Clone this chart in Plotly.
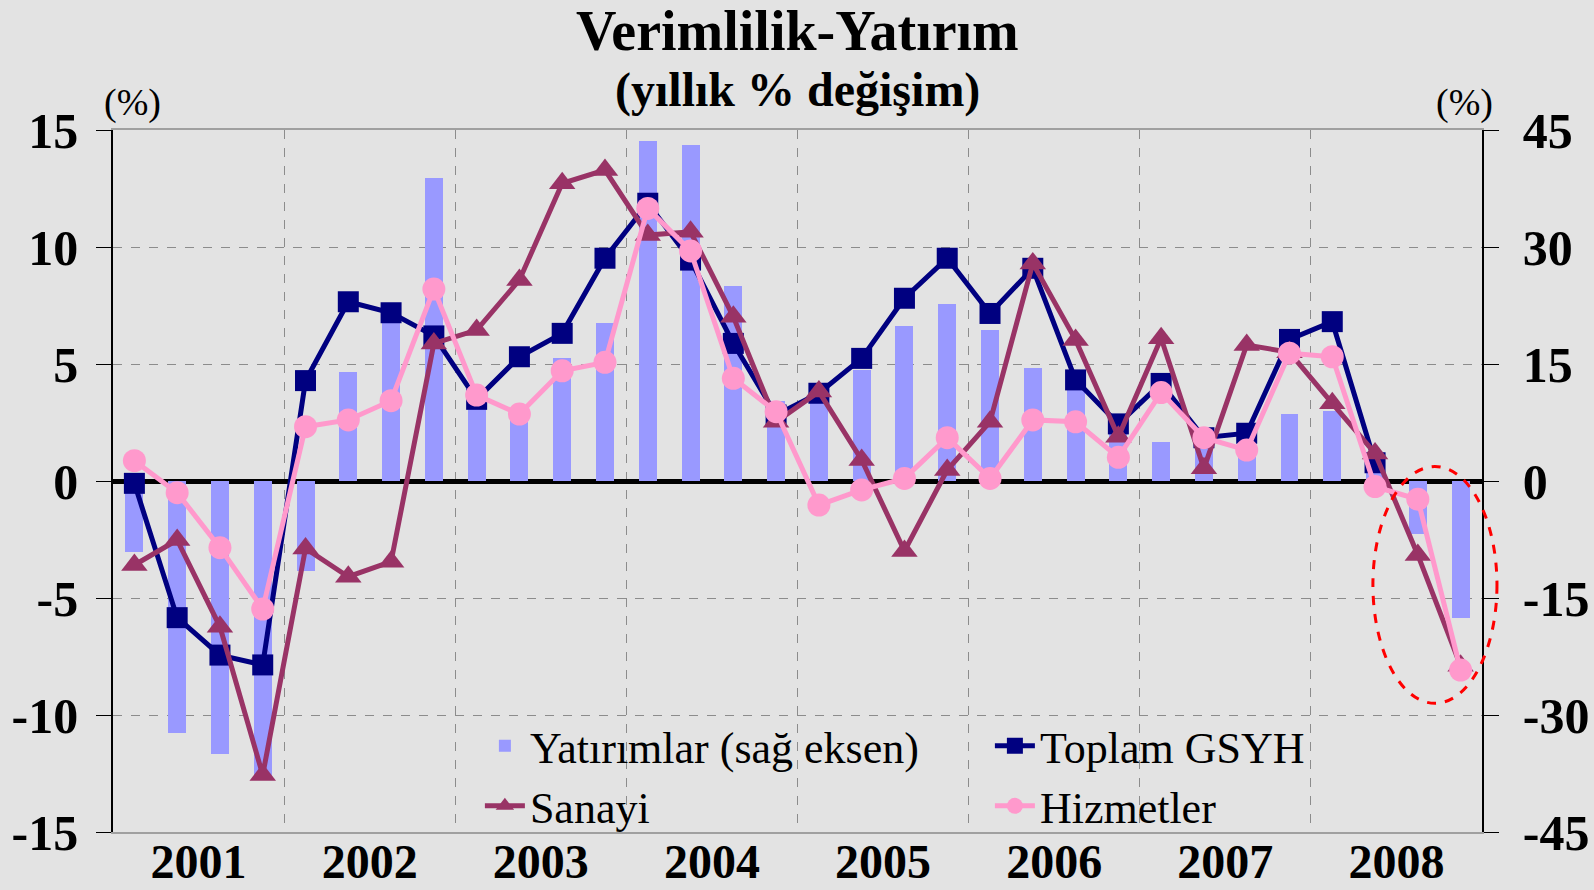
import plotly.graph_objects as go

quarters = [f"{y}Q{q}" for y in range(2001, 2009) for q in range(1, 5)]
years = ["2001", "2002", "2003", "2004", "2005", "2006", "2007", "2008"]

yatirimlar = [-9.1, -32.3, -35.0, -38.0, -11.5, 14.0, 20.7, 38.8,
              10.0, 8.8, 15.8, 20.3, 43.6, 43.1, 25.0, 10.2,
              10.8, 14.2, 19.9, 22.7, 19.4, 14.5, 12.0, 6.2,
              5.0, 4.5, 4.0, 8.6, 9.0, 1.5, -6.8, -17.5]

gsyh = [-0.1, -5.84, -7.44, -7.86, 4.29, 7.66, 7.19, 6.2,
        3.49, 5.31, 6.31, 9.52, 11.87, 9.44, 5.88, 2.82,
        3.75, 5.24, 7.81, 9.52, 7.16, 9.09, 4.32, 2.44,
        4.17, 1.85, 2.04, 6.05, 6.81, 0.78, None, None]

sanayi = [-3.59, -2.52, -6.23, -12.56, -2.88, -4.09, -3.45, 5.88,
          6.45, 8.59, 12.72, 13.29, 10.51, 10.65, 7.02, 2.53,
          3.82, 0.9, -2.99, 0.47, 2.53, 9.3, 6.03, 1.89,
          6.1, 0.54, 5.81, 5.5, 3.32, 1.18, -3.16, -7.9]

hizmetler = [0.87, -0.5, -2.85, -5.47, 2.32, 2.61, 3.43, 8.2,
             3.67, 2.86, 4.71, 5.07, 11.65, 9.83, 4.39, 2.96,
             -1.03, -0.38, 0.11, 1.85, 0.11, 2.61, 2.53, 1.01,
             3.78, 1.85, 1.32, 5.46, 5.31, -0.24, -0.78, -8.08]

left_ticks = [-15, -10, -5, 0, 5, 10, 15]
right_ticks = [-45, -30, -15, 0, 15, 30, 45]
left_labels = [str(v) for v in left_ticks]
right_labels = [str(v) for v in right_ticks]

xi = list(range(len(quarters)))
year_centers = [4 * k + 1.5 for k in range(len(years))]
year_bounds = [4 * k - 0.5 for k in range(1, len(years))]

X_RANGE = [-0.5, len(quarters) - 0.5]
Y2_RANGE = [-15, 15]

SERIF = "Liberation Serif"
BG = "#E3E3E3"

fig = go.Figure()
fig.add_trace(go.Bar(x=xi, y=yatirimlar, name="Yatırımlar (sağ eksen)",
                     marker=dict(color="#9999FF", line=dict(width=0)),
                     width=0.42, yaxis="y"))
fig.add_trace(go.Scatter(x=xi, y=gsyh, name="Toplam GSYH", mode="lines+markers",
                         line=dict(color="#000080", width=5),
                         marker=dict(symbol="square", size=21, color="#000080"),
                         yaxis="y2"))
fig.add_trace(go.Scatter(x=xi, y=sanayi, name="Sanayi", mode="lines+markers",
                         line=dict(color="#993366", width=5),
                         marker=dict(symbol="triangle-up", size=23, color="#993366"),
                         yaxis="y2"))
fig.add_trace(go.Scatter(x=xi, y=hizmetler, name="Hizmetler", mode="lines+markers",
                         line=dict(color="#FF99CC", width=5),
                         marker=dict(symbol="circle", size=23, color="#FF99CC"),
                         yaxis="y2"))

# highlight ellipse around the last two quarters (data units -> paper units)
ell_x = [28.95, 31.85]
ell_y = [0.62, -9.5]
def px(v):
    return (v - X_RANGE[0]) / (X_RANGE[1] - X_RANGE[0])
def py(v):
    return (v - Y2_RANGE[0]) / (Y2_RANGE[1] - Y2_RANGE[0])
fig.add_shape(type="circle", xref="paper", yref="paper",
              x0=px(ell_x[0]), x1=px(ell_x[1]), y0=py(ell_y[1]), y1=py(ell_y[0]),
              line=dict(color="#FF0000", width=3, dash="dash"), layer="above")

tickfont = dict(family=SERIF, size=50, color="black", weight="bold")
yearfont = dict(family=SERIF, size=48, color="black", weight="bold")

fig.update_layout(
    width=1594, height=890,
    paper_bgcolor=BG, plot_bgcolor=BG,
    margin=dict(l=113, r=112, t=130, b=58, autoexpand=False),
    bargap=0,
    showlegend=True,
    xaxis=dict(range=X_RANGE, tickmode="array", tickvals=year_centers, ticktext=years,
               tickfont=yearfont, ticks="", showgrid=False, zeroline=False, automargin=False,
               ticklabelstandoff=-14,
               showline=True, mirror=True, linecolor="#A0A0A0", linewidth=2,
               minor=dict(tickmode="array", tickvals=year_bounds, showgrid=True,
                          gridcolor="#8C8C8C", griddash="dash", gridwidth=1, ticks="")),
    yaxis=dict(range=[-45, 45], tickmode="array", tickvals=right_ticks, ticktext=right_labels,
               side="right", automargin=False,
               tickfont=tickfont, ticks="outside", ticklen=15, tickcolor="black",
               ticklabelstandoff=14,
               showline=True, linecolor="black", linewidth=1.5,
               showgrid=True, gridcolor="#8C8C8C", griddash="dash", gridwidth=1,
               zeroline=False),
    yaxis2=dict(range=Y2_RANGE, tickmode="array", tickvals=left_ticks, ticktext=left_labels,
                side="left", overlaying="y", automargin=False,
                tickfont=tickfont, ticks="outside", ticklen=15, tickcolor="black",
                ticklabelstandoff=8,
                showline=True, linecolor="black", linewidth=1.5,
                showgrid=False, zeroline=True, zerolinecolor="black", zerolinewidth=5),
    legend=dict(orientation="h", x=0.268, y=0.173, xanchor="left", yanchor="top",
                entrywidth=455, entrywidthmode="pixels",
                bgcolor="rgba(0,0,0,0)", font=dict(family=SERIF, size=44, color="black"),
                itemwidth=40, tracegroupgap=0),
    annotations=[
        dict(text="<b>Verimlilik-Yatırım</b>", xref="paper", yref="paper", x=0.5, y=1.0,
             xanchor="center", yanchor="middle", yshift=99, showarrow=False,
             font=dict(family=SERIF, size=56, color="black")),
        dict(text="<b>(yıllık % değişim)</b>", xref="paper", yref="paper", x=0.5, y=1.0,
             xanchor="center", yanchor="middle", yshift=40, showarrow=False,
             font=dict(family=SERIF, size=48, color="black")),
        dict(text="(%)", xref="paper", yref="paper", x=0.014, y=1.0, xanchor="center",
             yanchor="middle", yshift=28, showarrow=False,
             font=dict(family=SERIF, size=38, color="black")),
        dict(text="(%)", xref="paper", yref="paper", x=0.987, y=1.0, xanchor="center",
             yanchor="middle", yshift=28, showarrow=False,
             font=dict(family=SERIF, size=38, color="black")),
    ],
)

fig.write_html("out.html", config={"displayModeBar": False},
               post_script="document.body.style.margin='0';document.body.style.overflow='hidden';")
